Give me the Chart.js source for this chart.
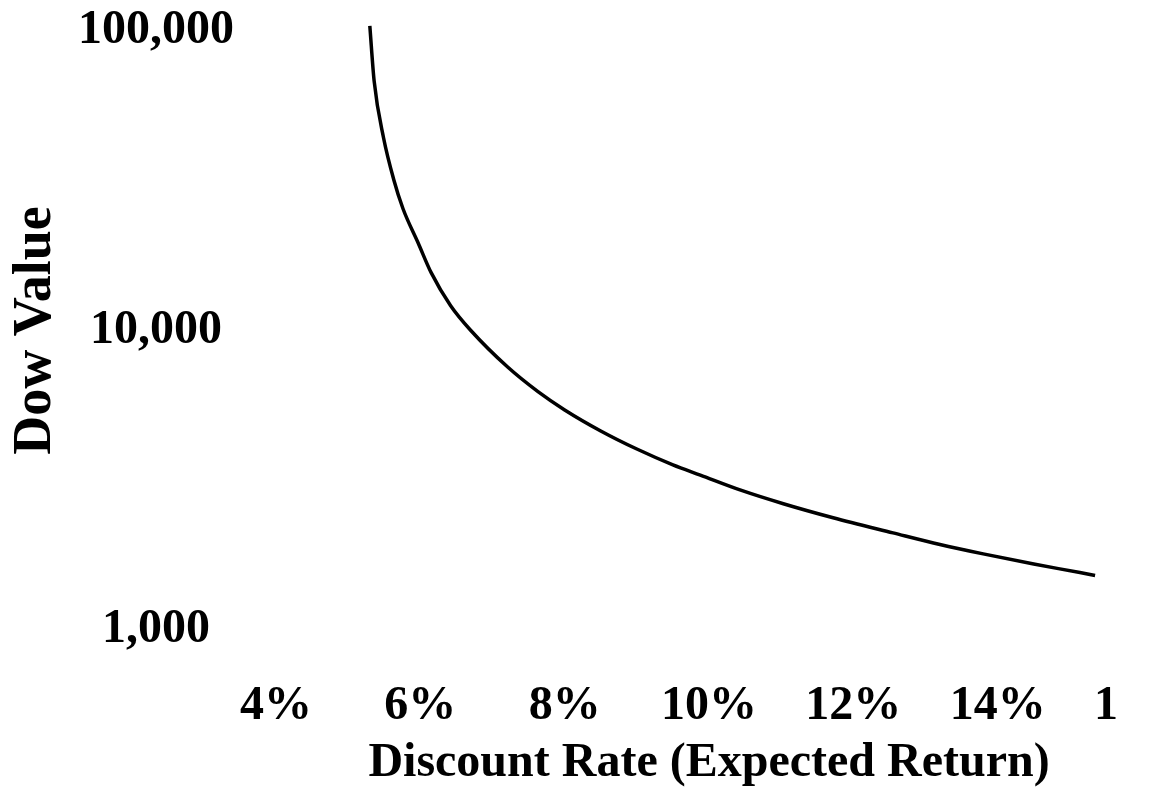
<!DOCTYPE html>
<html>
<head>
<meta charset="utf-8">
<script src="https://cdn.jsdelivr.net/npm/chart.js@4"></script>
<style>
  html, body { margin: 0; padding: 0; background: #fff; overflow: hidden; }
  /* the source picture is cropped just after the "1" of the last tick */
  #crop { width: 1116px; height: 789px; overflow: hidden; }
  #wrap { position: relative; width: 1250px; height: 789px; }
</style>
</head>
<body>
<div id="crop"><div id="wrap"><canvas id="dowChart"></canvas></div></div>
<script>
// discount rate (%) and Dow value
var rates = [5.3, 5.36, 5.49, 5.63, 5.76, 5.97, 6.15, 6.42, 6.7, 7.21, 7.63, 8.0, 8.5, 9.0, 9.5, 9.88, 10.44, 11.03, 11.72, 12.55, 13.2, 13.8, 14.5, 15.14, 15.35];
var dowValues = [104000, 68000, 44000, 32000, 25500, 19600, 15600, 12100, 10000, 7550, 6250, 5430, 4620, 4020, 3560, 3290, 2930, 2640, 2370, 2110, 1930, 1795, 1660, 1555, 1520];
var yTicks = [1000, 10000, 100000];
var xTicks = [4, 6, 8, 10, 12, 14, 16];

var serif = "'Liberation Serif', 'Times New Roman', serif";

var points = rates.map(function (r, i) { return { x: r, y: dowValues[i] }; });

var ctx = document.getElementById('dowChart').getContext('2d');
new Chart(ctx, {
  type: 'line',
  data: {
    datasets: [{
      data: points,
      borderColor: '#000',
      borderWidth: 3.5,
      pointRadius: 0,
      cubicInterpolationMode: 'monotone',
      clip: false
    }]
  },
  options: {
    responsive: true,
    maintainAspectRatio: false,
    animation: false,
    events: [],
    layout: { padding: { top: 31, left: 0, right: 108, bottom: 1 } },
    plugins: { legend: { display: false }, tooltip: { enabled: false } },
    scales: {
      x: {
        type: 'linear',
        min: 4,
        max: 16,
        afterBuildTicks: function (axis) {
          axis.ticks = xTicks.map(function (v) { return { value: v }; });
        },
        // tick marks are hidden but their length spaces the labels
        grid: { display: false, drawTicks: true, tickLength: 53 },
        border: { display: false },
        ticks: {
          padding: 0,
          color: '#000',
          maxRotation: 0,
          autoSkip: false,
          font: { family: serif, size: 48, weight: 'bold', lineHeight: 1 },
          callback: function (v) { return v + '%'; }
        },
        title: {
          display: true,
          text: 'Discount Rate (Expected Return)',
          color: '#000',
          padding: { top: 9, bottom: 0 },
          font: { family: serif, size: 48, weight: 'bold', lineHeight: 1 }
        }
      },
      y: {
        type: 'logarithmic',
        min: 1000,
        max: 100000,
        afterBuildTicks: function (axis) {
          axis.ticks = yTicks.map(function (v) { return { value: v }; });
        },
        grid: { display: false, drawTicks: true, tickLength: 42 },
        border: { display: false },
        ticks: {
          padding: 0,
          color: '#000',
          crossAlign: 'center',
          font: { family: serif, size: 48, weight: 'bold', lineHeight: 1 },
          callback: function (v) { return v.toLocaleString('en-US'); }
        },
        title: {
          display: true,
          text: 'Dow Value',
          color: '#000',
          padding: { top: 9, bottom: 15 },
          font: { family: serif, size: 54, weight: 'bold', lineHeight: 1 }
        }
      }
    }
  }
});
</script>
</body>
</html>
